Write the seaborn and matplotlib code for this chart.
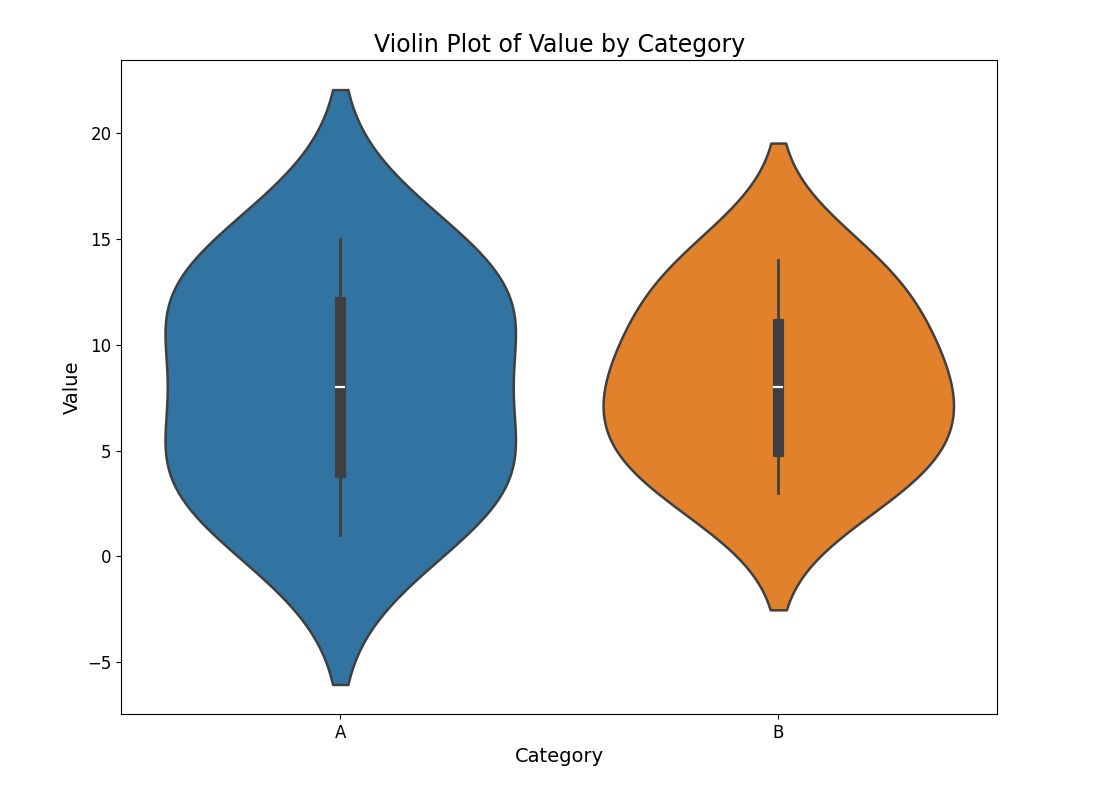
import pandas as pd
import seaborn as sns
import matplotlib.pyplot as plt

values_a = [1, 3, 4, 5, 8, 11, 12, 13, 15]
values_b = [3, 4, 5, 7, 8, 9, 11, 13, 14]

df = pd.DataFrame({
    "Category": ["A"] * len(values_a) + ["B"] * len(values_b),
    "Value": values_a + values_b,
})

plt.figure(figsize=(11.02, 7.98), dpi=100)
sns.violinplot(data=df, x="Category", y="Value", hue="Category", linewidth=1.8,
               bw_adjust=1.1, inner_kws={"box_width": 8, "whis_width": 2})
plt.title("Violin Plot of Value by Category", fontsize=17)
plt.xlabel("Category", fontsize=14)
plt.ylabel("Value", fontsize=14)
plt.xticks(fontsize=12)
plt.yticks(fontsize=12)
plt.subplots_adjust(left=0.11, right=0.905, top=0.925, bottom=0.105)
plt.savefig("out.png", dpi=100)
